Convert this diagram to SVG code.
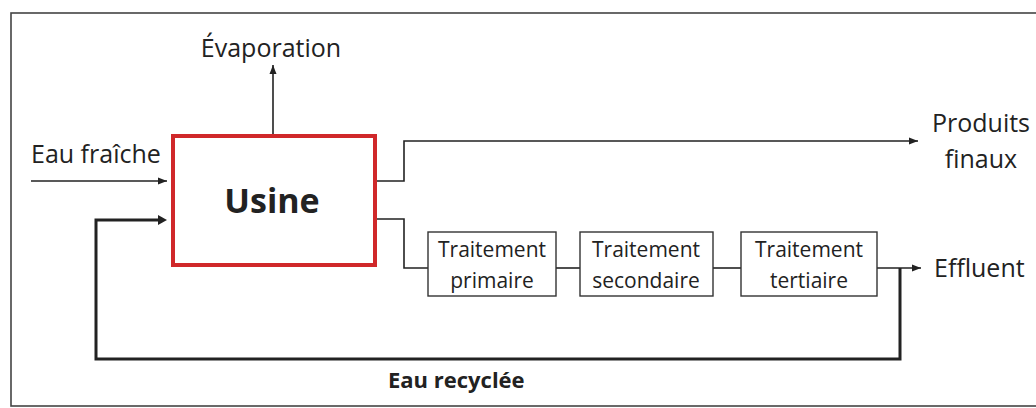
<svg xmlns="http://www.w3.org/2000/svg" width="1036" height="408" viewBox="0 0 1036 408">
<defs>
<style>
.t{font-family:"Open Sans","Noto Sans",sans-serif;fill:#222;font-size:25px}
.tb{font-family:"Open Sans","Noto Sans",sans-serif;fill:#222;font-weight:bold}
.bt{font-family:"Open Sans","Noto Sans",sans-serif;fill:#222;font-size:21px;text-anchor:middle}
.ln{fill:none;stroke:#222;stroke-width:1.6}
.thick{fill:none;stroke:#222;stroke-width:3}
.box{fill:#fff;stroke:#333;stroke-width:1.4}
</style>
<marker id="ah" markerUnits="userSpaceOnUse" markerWidth="10" markerHeight="8" refX="9" refY="4" orient="auto">
<path d="M0,0.5 L9,4 L0,7.5 Z" fill="#222"/>
</marker>
</defs>
<rect width="1036" height="408" fill="#fff"/>
<rect x="11" y="13" width="1040" height="393" fill="none" stroke="#444" stroke-width="1.6"/>
<g id="connectors">
<path class="ln" d="M273,135 L273,65" marker-end="url(#ah)"/>
<path class="ln" d="M31,181 L167,181" marker-end="url(#ah)"/>
<path class="ln" d="M376,181 L404,181 L404,141 L918,141" marker-end="url(#ah)"/>
<path class="ln" d="M376,219 L404,219 L404,268 L428,268"/>
<path class="ln" d="M556,268 L580,268"/>
<path class="ln" d="M713,268 L741,268"/>
<path class="ln" d="M877,268 L921,268" marker-end="url(#ah)"/>
<path class="thick" d="M900,268 L900,359 L96,359 L96,220 L158,220"/>
<path d="M158,215 L167,220 L158,225 Z" fill="#222"/>
</g>
<g id="usine">
<rect x="173" y="136" width="202" height="129" fill="#fff" stroke="#d0282a" stroke-width="4"/>
<text class="tb" x="272" y="213" font-size="34" text-anchor="middle">Usine</text>
</g>
<g id="primaire">
<rect class="box" x="428" y="232" width="128" height="64"/>
<text class="bt" x="492" y="257">Traitement</text>
<text class="bt" x="492" y="288">primaire</text>
</g>
<g id="secondaire">
<rect class="box" x="580" y="232" width="133" height="64"/>
<text class="bt" x="646" y="257">Traitement</text>
<text class="bt" x="646" y="288">secondaire</text>
</g>
<g id="tertiaire">
<rect class="box" x="741" y="232" width="136" height="64"/>
<text class="bt" x="809" y="257">Traitement</text>
<text class="bt" x="809" y="288">tertiaire</text>
</g>
<g id="labels">
<text class="t" x="271" y="57" text-anchor="middle">Évaporation</text>
<text class="t" x="31" y="163">Eau fraîche</text>
<text class="t" x="981" y="132" text-anchor="middle">Produits</text>
<text class="t" x="981" y="168" text-anchor="middle">finaux</text>
<text class="t" x="934" y="277">Effluent</text>
<text class="tb" x="388" y="388" font-size="22">Eau recyclée</text>
</g>
</svg>
